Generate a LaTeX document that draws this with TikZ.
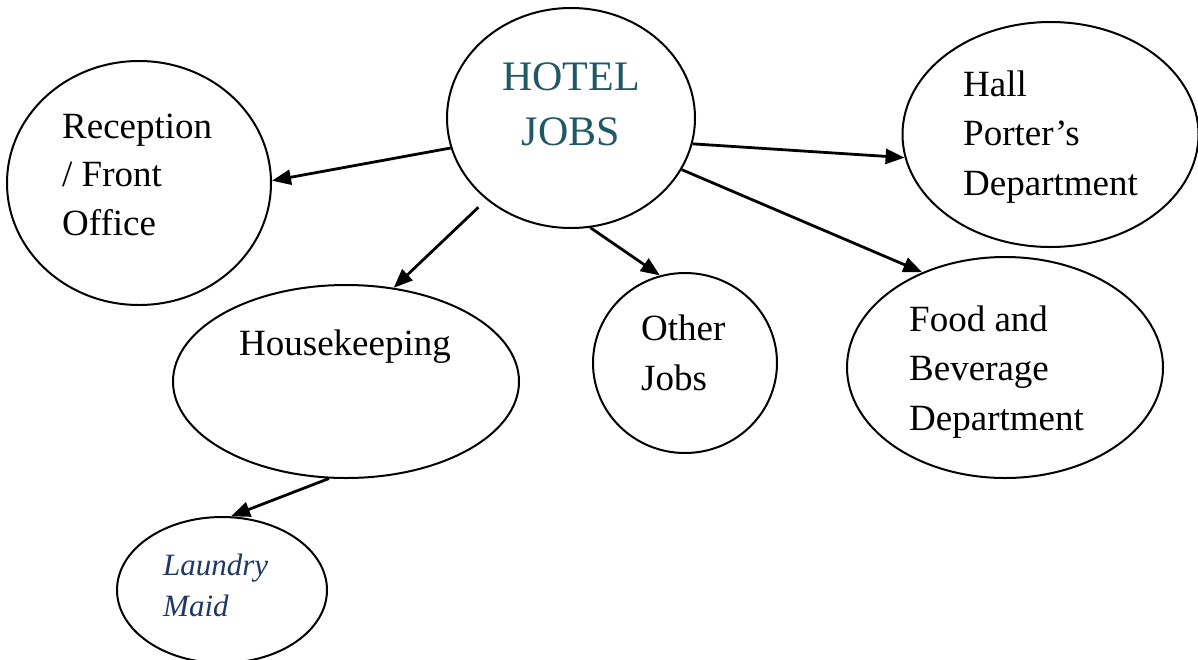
\documentclass[tikz,border=0pt]{standalone}
\usepackage{fontspec}
\setmainfont{Liberation Serif}
\usetikzlibrary{shapes.geometric,arrows.meta}
\definecolor{hoteltext}{HTML}{205867}
\definecolor{laundrytext}{HTML}{1F3864}
\tikzset{
  bubble/.style={draw=black, line width=2pt, ellipse, inner sep=0pt, fill=white},
  label/.style={inner sep=0pt, anchor=base west, text=black},
  conn/.style={line width=2.8pt, -{Triangle[length=19pt,width=15pt]}},
}
\begin{document}
\begin{tikzpicture}[x=1pt,y=-1pt]
\useasboundingbox (0,0) rectangle (1198,659);
\clip (0,0) rectangle (1198,659);
% ellipses
\node[bubble, minimum width=248pt, minimum height=220pt] (hotel) at (571,118) {};
\node[bubble, minimum width=264pt, minimum height=244pt] (rec) at (139,183) {};
\node[bubble, minimum width=296pt, minimum height=225pt] (hall) at (1050.5,134.5) {};
\node[bubble, minimum width=316pt, minimum height=221pt] (food) at (1005,367.5) {};
\node[bubble, minimum width=346pt, minimum height=193pt] (house) at (346,381.5) {};
\node[bubble, minimum width=184pt, minimum height=180pt] (other) at (685,363) {};
\node[bubble, minimum width=210pt, minimum height=146pt] (laundry) at (222,590) {};
% texts
\node[inner sep=0pt, anchor=base, text=hoteltext] (hoteltxt) at (571,90)
  {\fontsize{42}{55}\selectfont\begin{tabular}[t]{@{}c@{}}HOTEL\\JOBS\end{tabular}};
\node[label] (rectxt) at (62,138)
  {\fontsize{37}{48.5}\selectfont\begin{tabular}[t]{@{}l@{}}Reception\\/ Front\\Office\end{tabular}};
\node[label] (halltxt) at (963,96)
  {\fontsize{37}{49.5}\selectfont\begin{tabular}[t]{@{}l@{}}Hall\\Porter’s\\Department\end{tabular}};
\node[label] (foodtxt) at (909,331)
  {\fontsize{37}{49.5}\selectfont\begin{tabular}[t]{@{}l@{}}Food and\\Beverage\\Department\end{tabular}};
\node[label] (housetxt) at (239,355)
  {\fontsize{37}{49.5}\selectfont Housekeeping};
\node[label] (othertxt) at (641,340)
  {\fontsize{37}{50}\selectfont\begin{tabular}[t]{@{}l@{}}Other\\Jobs\end{tabular}};
\node[label, text=laundrytext] (laundrytxt) at (163,575)
  {\fontsize{31}{41}\selectfont\itshape\begin{tabular}[t]{@{}l@{}}Laundry\\Maid\end{tabular}};
% connectors
\draw[conn] (hotel.194.6) -- (rec.1.7);
\draw[conn] (hotel.348.9) -- (hall.189.8);
\draw[conn] (hotel.335.9) -- (food.131.9);
\draw[conn, shorten <=11pt] (hotel.224.7) -- (house.63.8);
\draw[conn] (hotel.280.9) -- (other.106);
\draw[conn] (house.260.6) -- (laundry.83.7);
\end{tikzpicture}
\end{document}
